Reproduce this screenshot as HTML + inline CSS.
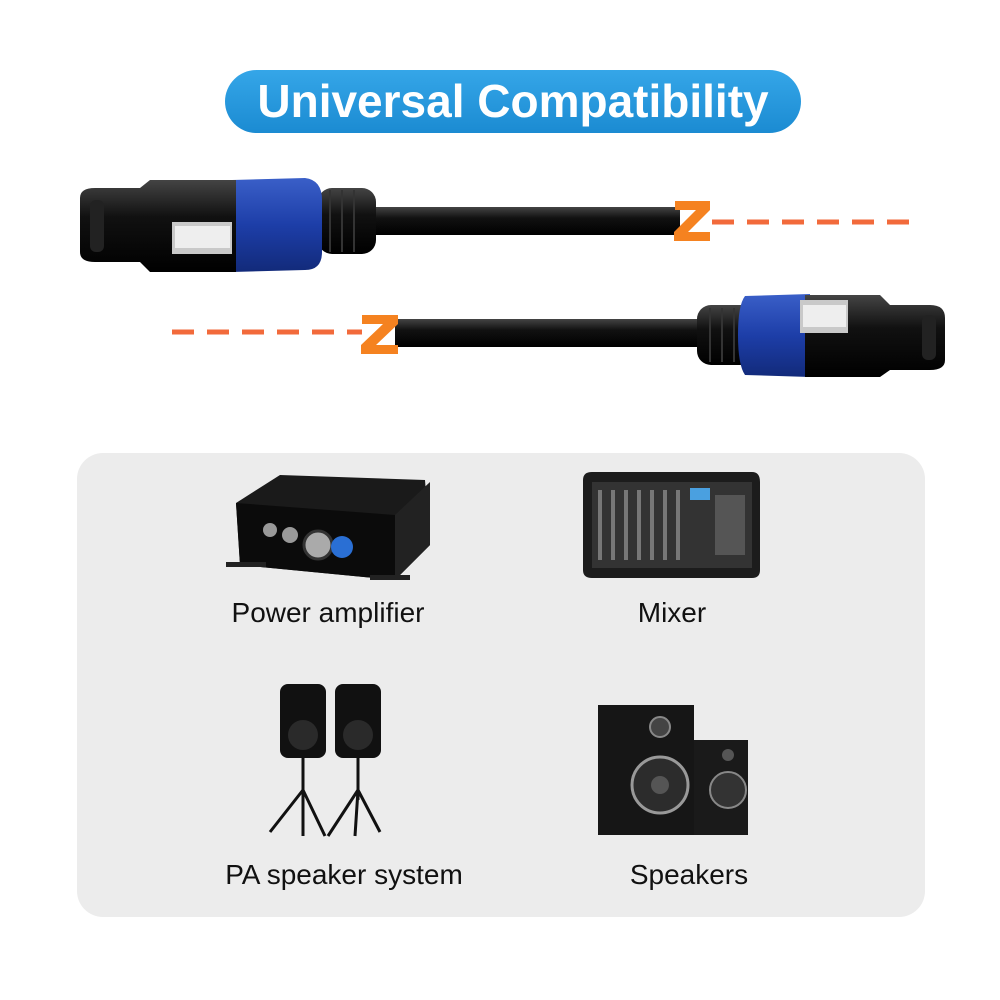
<!DOCTYPE html>
<html><head><meta charset="utf-8"><style>
html,body{margin:0;padding:0;background:#fff;}
body{width:1000px;height:1000px;position:relative;overflow:hidden;font-family:"Liberation Sans",sans-serif;}
.pill{position:absolute;left:225px;top:70px;width:576px;height:63px;border-radius:32px;background:linear-gradient(#35a6e8,#1b8bd2);color:#fff;font-weight:bold;font-size:46px;text-align:center;line-height:63px;}
.panel{position:absolute;left:77px;top:453px;width:848px;height:464px;border-radius:26px;background:#ececec;}
.lbl{position:absolute;font-size:28px;color:#111;text-align:center;width:300px;}
svg{position:absolute;left:0;top:0;}
</style></head><body>
<div class="pill">Universal Compatibility</div>
<div class="panel"></div>
<svg width="1000" height="1000" viewBox="0 0 1000 1000">
<defs>
<linearGradient id="blk" x1="0" y1="0" x2="0" y2="1"><stop offset="0" stop-color="#444"/><stop offset=".4" stop-color="#111"/><stop offset="1" stop-color="#000"/></linearGradient>
<linearGradient id="blu" x1="0" y1="0" x2="0" y2="1"><stop offset="0" stop-color="#3a5fc8"/><stop offset=".5" stop-color="#1d3ea8"/><stop offset="1" stop-color="#122a7a"/></linearGradient>
</defs>
<rect x="370" y="207" width="310" height="28" fill="url(#blk)"/>
<rect x="318" y="188" width="58" height="66" rx="14" fill="url(#blk)"/>
<g stroke="#333" stroke-width="2"><line x1="330" y1="190" x2="330" y2="252"/><line x1="342" y1="190" x2="342" y2="252"/><line x1="354" y1="190" x2="354" y2="252"/></g>
<path d="M232 180 L305 178 Q322 180 322 200 L322 252 Q322 270 305 270 L232 272 Z" fill="url(#blu)"/>
<path d="M80 198 Q80 188 95 188 L140 188 L150 180 L236 180 L236 272 L150 272 L140 262 L95 262 Q80 262 80 252 Z" fill="url(#blk)"/>
<rect x="172" y="222" width="60" height="32" fill="#c9c9c9"/>
<rect x="175" y="226" width="55" height="22" fill="#eee"/>
<rect x="90" y="200" width="14" height="52" rx="6" fill="#222"/>
<path d="M675 201 H710 V210 L688 232 H710 V241 H674 V232 L696 210 H675 Z" fill="#f58220"/>
<line x1="712" y1="222" x2="910" y2="222" stroke="#f26a3b" stroke-width="5" stroke-dasharray="22 13"/>
<line x1="172" y1="332" x2="362" y2="332" stroke="#f26a3b" stroke-width="5" stroke-dasharray="22 13"/>
<rect x="395" y="319" width="310" height="28" fill="url(#blk)"/>
<path d="M362 315 H398 V324 L376 345 H398 V354 H361 V345 L383 324 H362 Z" fill="#f58220"/>
<rect x="697" y="305" width="58" height="60" rx="14" fill="url(#blk)"/>
<g stroke="#333" stroke-width="2"><line x1="710" y1="308" x2="710" y2="362"/><line x1="722" y1="308" x2="722" y2="362"/><line x1="734" y1="308" x2="734" y2="362"/></g>
<path d="M745 296 L810 294 L810 377 L745 375 Q738 365 738 335 Q738 305 745 296 Z" fill="url(#blu)"/>
<path d="M805 295 L880 295 L890 305 L930 305 Q945 305 945 318 L945 360 Q945 370 930 370 L890 370 L880 377 L805 377 Z" fill="url(#blk)"/>
<rect x="800" y="300" width="48" height="33" fill="#c9c9c9"/>
<rect x="803" y="305" width="43" height="22" fill="#eee"/>
<rect x="922" y="315" width="14" height="45" rx="6" fill="#222"/>
<path d="M236 503 L280 475 L425 480 L430 545 L395 580 L240 565 Z" fill="#1a1a1a"/>
<path d="M236 503 L395 515 L395 580 L240 565 Z" fill="#0b0b0b"/>
<path d="M395 515 L430 482 L430 545 L395 580 Z" fill="#222"/>
<circle cx="318" cy="545" r="14" fill="#aaa" stroke="#333" stroke-width="3"/>
<circle cx="290" cy="535" r="8" fill="#999"/><circle cx="270" cy="530" r="7" fill="#999"/>
<circle cx="342" cy="547" r="11" fill="#2a6fd4"/>
<rect x="226" y="562" width="40" height="5" fill="#222"/><rect x="370" y="575" width="40" height="5" fill="#222"/>
<path d="M583 480 Q583 472 592 472 L752 472 Q760 472 760 482 L760 570 Q760 578 752 578 L592 578 Q583 578 583 570 Z" fill="#1c1c1c"/>
<rect x="592" y="482" width="160" height="86" fill="#333"/>
<g fill="#777">
<rect x="598" y="490" width="4" height="70"/><rect x="611" y="490" width="4" height="70"/><rect x="624" y="490" width="4" height="70"/><rect x="637" y="490" width="4" height="70"/><rect x="650" y="490" width="4" height="70"/><rect x="663" y="490" width="4" height="70"/><rect x="676" y="490" width="4" height="70"/>
</g>
<rect x="690" y="488" width="20" height="12" fill="#4aa0e0"/>
<rect x="715" y="495" width="30" height="60" fill="#555"/>
<rect x="280" y="684" width="46" height="74" rx="8" fill="#111"/>
<rect x="335" y="684" width="46" height="74" rx="8" fill="#111"/>
<circle cx="303" cy="735" r="15" fill="#2a2a2a"/><circle cx="358" cy="735" r="15" fill="#2a2a2a"/>
<g stroke="#111" stroke-width="3" fill="none">
<line x1="303" y1="758" x2="303" y2="800"/><path d="M303 790 L270 832 M303 790 L325 836 M303 790 L303 836"/>
<line x1="358" y1="758" x2="358" y2="800"/><path d="M358 790 L328 836 M358 790 L380 832 M358 790 L355 836"/>
</g>
<rect x="692" y="740" width="56" height="95" fill="#1a1a1a"/>
<circle cx="728" cy="790" r="18" fill="#333" stroke="#888" stroke-width="2"/><circle cx="728" cy="755" r="6" fill="#555"/>
<rect x="598" y="705" width="96" height="130" fill="#161616"/>
<circle cx="660" cy="785" r="28" fill="#2c2c2c" stroke="#999" stroke-width="3"/><circle cx="660" cy="785" r="9" fill="#555"/>
<circle cx="660" cy="727" r="10" fill="#444" stroke="#888" stroke-width="2"/>
</svg>
<div class="lbl" style="left:178px;top:597px;">Power amplifier</div>
<div class="lbl" style="left:522px;top:597px;">Mixer</div>
<div class="lbl" style="left:194px;top:859px;">PA speaker system</div>
<div class="lbl" style="left:539px;top:859px;">Speakers</div>
</body></html>
